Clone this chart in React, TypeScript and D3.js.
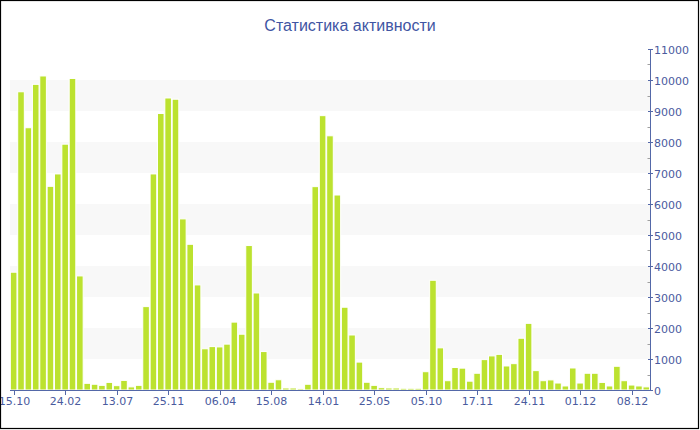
import React from "react";
import * as d3 from "d3";

const title = "Статистика активности";

const values: number[] = [
  3800, 9620, 8460, 9860, 10130, 6570, 6970, 7930, 10050, 3680,
  215, 185, 150, 245, 140, 310, 100, 150, 2690, 6970,
  8920, 9420, 9380, 5520, 4700, 3390, 1330, 1400, 1390, 1480,
  2190, 1800, 4660, 3130, 1240, 250, 330, 65, 65, 45,
  185, 6560, 8850, 8200, 6290, 2670, 1775, 900, 250, 150,
  75, 65, 65, 55, 55, 55, 590, 3540, 1360, 300,
  725, 705, 285, 540, 980, 1100, 1150, 775, 850, 1670,
  2150, 625, 300, 325, 225, 130, 710, 225, 540, 540,
  245, 130, 765, 300, 160, 130, 100,
];

const tickIndices: number[] = [0, 7, 14, 21, 28, 35, 42, 49, 56, 63, 70, 77, 84];
const tickLabels: string[] = [
  "15.10", "24.02", "13.07", "25.11", "06.04", "15.08", "14.01",
  "25.05", "05.10", "17.11", "24.11", "01.12", "08.12",
];

const yTicks: number[] = [0, 1000, 2000, 3000, 4000, 5000, 6000, 7000, 8000, 9000, 10000, 11000];
const bandStarts: number[] = [1000, 3000, 5000, 7000, 9000];

const W = 700;
const H = 430;
const left = 10;
const right = 650;
const top = 49;
const bottom = 390;

const barColor = "#bce22f";
const axisColor = "#5468a8";
const labelColor = "#4a5b9e";
const font = "'DejaVu Sans', Verdana, sans-serif";

export default function App() {
  const x = d3
    .scaleBand<number>()
    .domain(values.map((_, i) => i))
    .range([left, right])
    .paddingInner(0)
    .paddingOuter(0);
  const y = d3.scaleLinear().domain([0, 11000]).range([bottom, top]);
  const bw = x.bandwidth();
  const minor = d3.range(500, 11000, 1000);

  return (
    <svg
      width={W}
      height={H}
      style={{ position: "absolute", left: 0, top: 0, background: "#fff" }}
    >
      <rect x={0} y={0} width={W} height={H} fill="#fff" />
      {bandStarts.map((b) => (
        <rect
          key={"band" + b}
          x={left}
          y={y(b + 1000)}
          width={right - left}
          height={y(b) - y(b + 1000)}
          fill="#f8f8f8"
        />
      ))}
      <text
        x={350}
        y={31}
        textAnchor="middle"
        fontFamily="'Liberation Sans', Arial, sans-serif"
        fontSize={16}
        fill="#3f55a3"
      >
        {title}
      </text>
      {values.map((v, i) => (
        <rect
          key={"bar" + i}
          x={(x(i) as number) + 0.35}
          y={y(v)}
          width={bw - 0.75}
          height={bottom - y(v)}
          fill={barColor}
          stroke="#ffffff"
          strokeWidth={1}
        />
      ))}
      {/* x axis */}
      <line x1={left} x2={right} y1={bottom + 0.5} y2={bottom + 0.5} stroke={axisColor} strokeWidth={1} />
      {tickIndices.map((ti, k) => {
        const cx = Math.round((x(ti) as number) + bw / 2) + 0.5;
        return (
          <g key={"xt" + ti}>
            <line x1={cx} x2={cx} y1={bottom} y2={bottom + 5} stroke={axisColor} strokeWidth={1} />
            <text
              x={cx}
              y={405}
              textAnchor="middle"
              fontFamily={font}
              fontSize={11}
              fill={labelColor}
            >
              {tickLabels[k]}
            </text>
          </g>
        );
      })}
      {/* y axis */}
      <line x1={right + 0.5} x2={right + 0.5} y1={top} y2={bottom + 1} stroke={axisColor} strokeWidth={1} />
      {minor.map((m) => (
        <line
          key={"mn" + m}
          x1={right - 2.5}
          x2={right}
          y1={Math.round(y(m)) + 0.5}
          y2={Math.round(y(m)) + 0.5}
          stroke="#a0a0a0"
          strokeWidth={1}
        />
      ))}
      {yTicks.map((t) => (
        <g key={"yt" + t}>
          <line
            x1={right - 2}
            x2={right + 3}
            y1={Math.round(y(t)) + 0.5}
            y2={Math.round(y(t)) + 0.5}
            stroke={axisColor}
            strokeWidth={1}
          />
          <text
            x={654}
            y={y(t) + 5}
            textAnchor="start"
            fontFamily={font}
            fontSize={11}
            fill={labelColor}
          >
            {t}
          </text>
        </g>
      ))}
      <rect x={0.5} y={0.5} width={W - 2} height={H - 2} fill="none" stroke="#000" strokeWidth={1.2} />
    </svg>
  );
}
